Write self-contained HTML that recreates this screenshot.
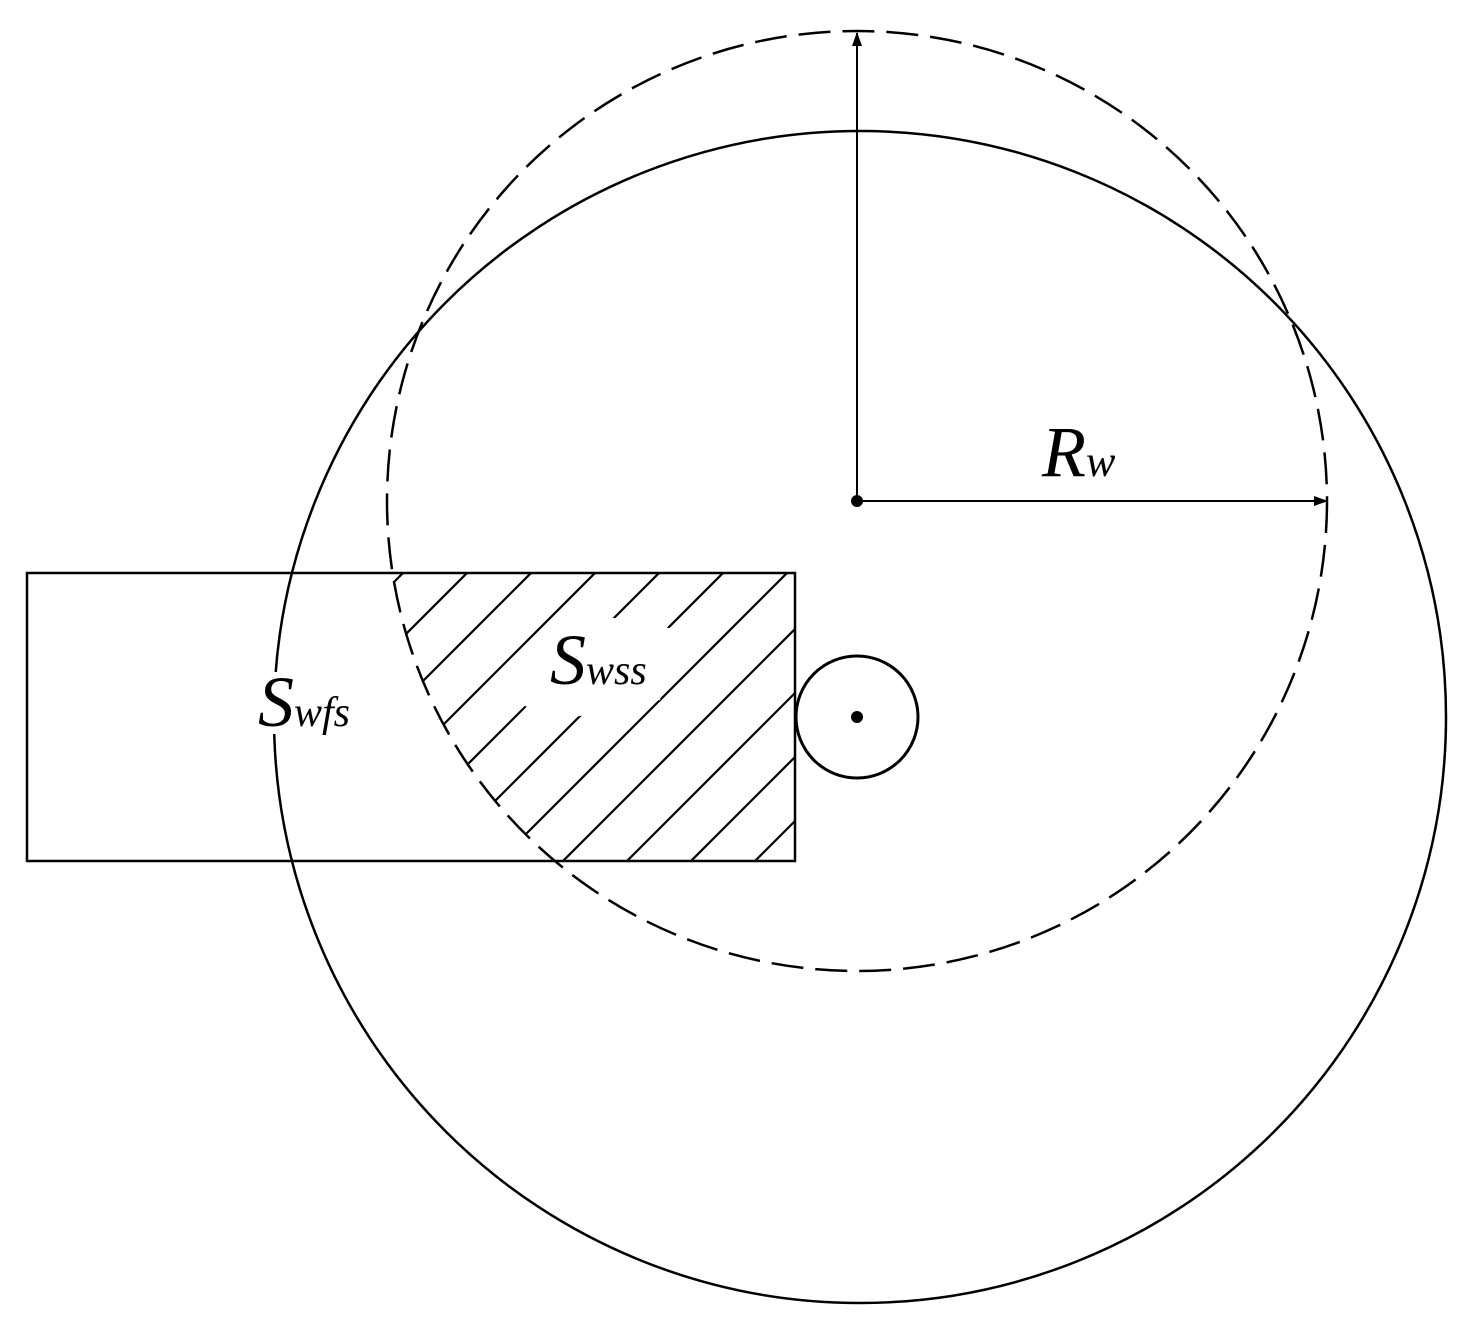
<!DOCTYPE html>
<html><head><style>html,body{margin:0;padding:0;background:#fff;overflow:hidden;width:1459px;height:1327px}svg{display:block}</style></head>
<body>
<svg width="1459" height="1327" viewBox="0 0 1459 1327" xmlns="http://www.w3.org/2000/svg">
<defs>
<clipPath id="hc">
<rect x="27" y="573" width="768" height="288"/>
</clipPath>
<clipPath id="cc"><circle cx="857" cy="501" r="470"/></clipPath>
<marker id="ah" markerWidth="14" markerHeight="10" refX="13" refY="5" orient="auto" markerUnits="userSpaceOnUse">
<path d="M0,0 L14,5 L0,10 z" fill="#000"/>
</marker>
</defs>
<g fill="none" stroke="#000" stroke-width="2.5">
<circle cx="860" cy="717" r="586"/>
<circle cx="857" cy="501" r="470" stroke-dasharray="32,12"/>
<circle cx="857" cy="717" r="61" stroke-width="3"/>
</g>
<g clip-path="url(#cc)"><g clip-path="url(#hc)" stroke="#000" stroke-width="2.2">
<line x1="200" y1="1224" x2="1000" y2="424"/>
<line x1="200" y1="1160" x2="1000" y2="360"/>
<line x1="200" y1="1096" x2="1000" y2="296"/>
<line x1="200" y1="1032" x2="1000" y2="232"/>
<line x1="200" y1="968" x2="1000" y2="168"/>
<line x1="200" y1="904" x2="1000" y2="104"/>
<line x1="200" y1="840" x2="1000" y2="40"/>
<line x1="200" y1="776" x2="1000" y2="-24"/>
<line x1="200" y1="712" x2="1000" y2="-88"/>
<line x1="200" y1="1288" x2="1000" y2="488"/>
<line x1="200" y1="1352" x2="1000" y2="552"/>
<line x1="200" y1="1416" x2="1000" y2="616"/>
<line x1="200" y1="1480" x2="1000" y2="680"/>
</g></g>
<g fill="none" stroke="#000" stroke-width="2.5">
<rect x="27" y="573" width="768" height="288"/>
</g>
<polygon points="520,650 570,610 680,630 660,700 560,720 510,700" fill="#fff"/>
<rect x="255" y="672" width="105" height="62" fill="#fff"/>
<line x1="857" y1="501" x2="857" y2="33" stroke="#000" stroke-width="2" marker-end="url(#ah)"/>
<line x1="857" y1="501" x2="1327" y2="501" stroke="#000" stroke-width="2" marker-end="url(#ah)"/>
<circle cx="857" cy="501" r="6" fill="#000"/>
<circle cx="857" cy="717" r="6" fill="#000"/>
<g font-family="Liberation Serif, serif" font-style="italic" fill="#000">
<text x="1042" y="476" font-size="72">R<tspan font-size="44">w</tspan></text>
<text x="550" y="684" font-size="72">S<tspan font-size="42">wss</tspan></text>
<text x="258" y="726" font-size="72">S<tspan font-size="42">wfs</tspan></text>
</g>
</svg>
</body></html>
